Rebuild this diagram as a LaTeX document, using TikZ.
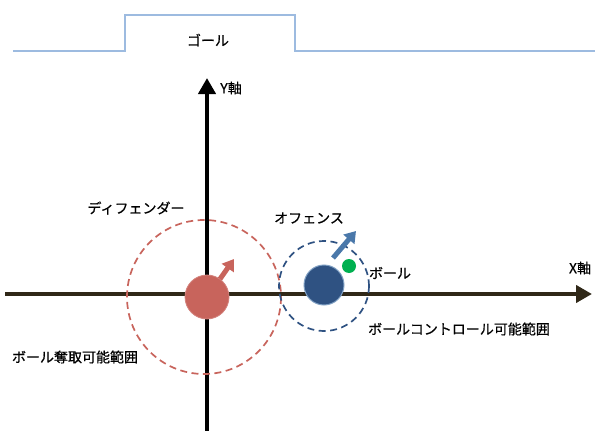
\documentclass[tikz,border=0pt]{standalone}
\usepackage{fontspec}
\newfontfamily\jp[FakeBold=0.5]{Noto Sans CJK JP}
\usetikzlibrary{arrows.meta}
\definecolor{goalblue}{HTML}{9DBBE0}
\definecolor{defred}{HTML}{C8645C}
\definecolor{offblue}{HTML}{2F5282}
\definecolor{offarrow}{HTML}{4A78AA}
\definecolor{ballgreen}{HTML}{00B050}
\definecolor{axisdark}{HTML}{302818}
\tikzset{
  lbl/.style={font=\jp\fontsize{14}{16}\selectfont, inner sep=0pt},
  axis/.style={line width=4.5pt, -{Triangle[width=17pt,length=16pt]}},
  movearrow/.style={line width=5pt, -{Triangle[width=14pt,length=11pt]}},
  zone/.style={line width=1.7pt, dash pattern=on 7pt off 4.5pt},
}
\begin{document}
\begin{tikzpicture}[x=1pt,y=-1pt]
\useasboundingbox (0,0) rectangle (595,431);
% goal line
\draw[goalblue, line width=1.3pt] (13,51) -- (125,51) -- (125,15) -- (295,15) -- (295,51) -- (595,51);
\node[lbl] (goal) at (208,40) {ゴール};
% axes
\coordinate (xs) at (5,294);
\coordinate (xe) at (592,294);
\coordinate (ys) at (207,431);
\coordinate (ye) at (207,78);
\draw[axis, axisdark] (xs) -- (xe);
\draw[axis, black] (ys) -- (ye);
\node[lbl] (ylab) at (231,88) {Y軸};
\node[lbl] (xlab) at (580,268) {X軸};
% defender
\draw[defred, zone] (204,297) circle (77);
\node[circle, fill=defred, draw=defred!80!white, line width=0.8pt, minimum size=44pt, inner sep=0pt] (def) at (207,297) {};
\coordinate (defA) at (220,279);
\coordinate (defB) at (234,259);
\draw[movearrow, defred] (defA) -- (defB);
\node[lbl] (deflab) at (136,208) {ディフェンダー};
\node[lbl] (steal) at (75,357) {ボール奪取可能範囲};
% offense
\draw[offblue, zone] (324,286) circle (45);
\node[circle, fill=offblue, draw=offarrow!70!white, line width=1pt, minimum size=40pt, inner sep=0pt] (off) at (324,285) {};
\coordinate (offA) at (333,258);
\coordinate (offB) at (356,231);
\draw[movearrow, offarrow] (offA) -- (offB);
\node[circle, fill=ballgreen, minimum size=14pt, inner sep=0pt] (ball) at (349,266) {};
\node[lbl] (offlab) at (309,218) {オフェンス};
\node[lbl] (balllab) at (390,273) {ボール};
\node[lbl] (ctrl) at (459,329) {ボールコントロール可能範囲};
\end{tikzpicture}
\end{document}
